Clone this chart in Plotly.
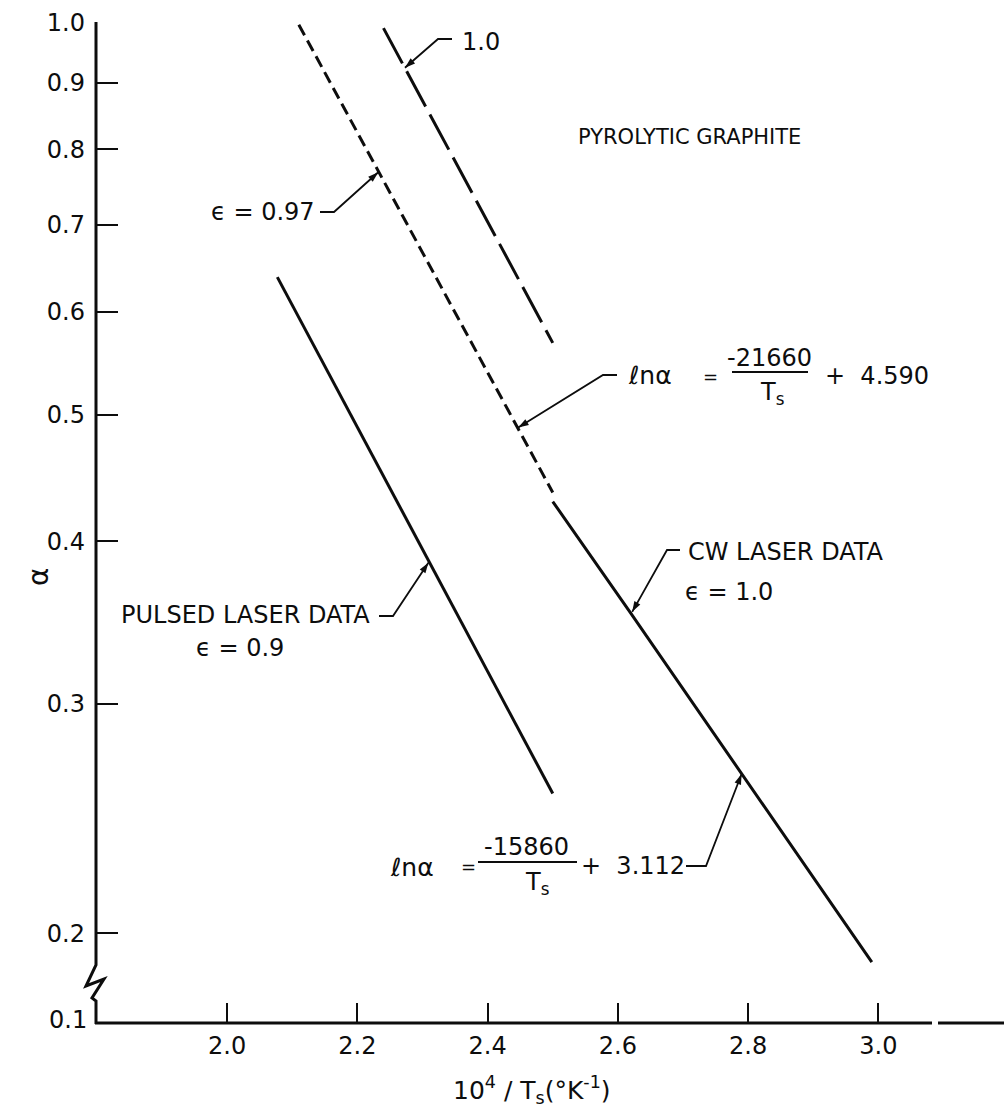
import math
import plotly.graph_objects as go

# ---------------- data ----------------
pulsed_x = [2.077, 2.5]
pulsed_y = [0.638, 0.256]

eps097_x = [2.11, 2.5]          # short-dashed, epsilon = 0.97
eps097_y = [0.997, 0.436]

eps10_x = [2.24, 2.5]           # long-dashed, epsilon = 1.0
eps10_y = [0.991, 0.568]

cw_x = [2.5, 2.62, 2.99]        # CW laser data
cw_y = [0.429, 0.352, 0.19]

x_tick_vals = [2.0, 2.2, 2.4, 2.6, 2.8, 3.0]
x_tick_text = ["2.0", "2.2", "2.4", "2.6", "2.8", "3.0"]
y_tick_vals = [0.2, 0.3, 0.4, 0.5, 0.6, 0.7, 0.8, 0.9, 1.0]
y_tick_text = ["0.2", "0.3", "0.4", "0.5", "0.6", "0.7", "0.8", "0.9", "1.0"]

X_RANGE = [1.797, 3.193]
Y_RANGE = [-0.768, 0.0]         # log10 units; bottom drawn as broken axis "0.1"

FONT = "DejaVu Sans"
BLACK = "#0d0d0d"

# ---------------- layout helpers ----------------
W, H = 1004, 1120
ML, MR, MT, MB = 95, 0, 23, 97
PW, PH = W - ML - MR, H - MT - MB


def pxx(x):
    return (x - ML) / PW


def pxy(y):
    return (H - MB - y) / PH


def dx(x):
    return (x - X_RANGE[0]) / (X_RANGE[1] - X_RANGE[0])


def dy(v):
    return (math.log10(v) - Y_RANGE[0]) / (Y_RANGE[1] - Y_RANGE[0])


fig = go.Figure()

fig.add_trace(go.Scatter(x=pulsed_x, y=pulsed_y, mode="lines",
                         line=dict(color=BLACK, width=3), showlegend=False))
fig.add_trace(go.Scatter(x=eps097_x, y=eps097_y, mode="lines",
                         line=dict(color=BLACK, width=3, dash="12px,6px"), showlegend=False))
fig.add_trace(go.Scatter(x=eps10_x, y=eps10_y, mode="lines",
                         line=dict(color=BLACK, width=3, dash="40px,9px"), showlegend=False))
fig.add_trace(go.Scatter(x=cw_x, y=cw_y, mode="lines",
                         line=dict(color=BLACK, width=3), showlegend=False))

shapes = []
# broken y axis with zigzag
shapes.append(dict(type="path", xref="paper", yref="paper",
                   path=(f"M {pxx(96)},{pxy(22)} L {pxx(96)},{pxy(965)} "
                         f"L {pxx(86)},{pxy(986)} L {pxx(104)},{pxy(979)} "
                         f"L {pxx(92)},{pxy(998)} L {pxx(96)},{pxy(1001)} L {pxx(96)},{pxy(1024)}"),
                   line=dict(color=BLACK, width=3)))
# x axis line (small gap near the right)
shapes.append(dict(type="line", xref="paper", yref="paper",
                   x0=pxx(95), x1=pxx(932), y0=pxy(1023), y1=pxy(1023),
                   line=dict(color=BLACK, width=3)))
shapes.append(dict(type="line", xref="paper", yref="paper",
                   x0=pxx(938), x1=pxx(1004), y0=pxy(1023), y1=pxy(1023),
                   line=dict(color=BLACK, width=3)))

annotations = []
head_x, head_y, head_angle = [], [], []


def text(t, x, y, size=24, xanchor="center"):
    annotations.append(dict(text=t, x=pxx(x), y=pxy(y), xref="paper", yref="paper",
                            showarrow=False, xanchor=xanchor, yanchor="middle",
                            font=dict(family=FONT, size=size, color=BLACK)))


def leader(stub_x0, stub_x1, sy, tx, ty):
    # horizontal stub from the label, then a line to the curve point with an arrowhead
    tpx = ML + dx(tx) * PW
    tpy = H - MB - dy(ty) * PH
    shapes.append(dict(type="path", xref="paper", yref="paper",
                       path=(f"M {pxx(stub_x0)},{pxy(sy)} L {pxx(stub_x1)},{pxy(sy)} "
                             f"L {pxx(tpx)},{pxy(tpy)}"),
                       line=dict(color=BLACK, width=1.8)))
    head_x.append(tx)
    head_y.append(ty)
    head_angle.append(math.degrees(math.atan2(tpx - stub_x1, -(tpy - sy))))


def frac_bar(x0, x1, y):
    shapes.append(dict(type="line", xref="paper", yref="paper",
                       x0=pxx(x0), x1=pxx(x1), y0=pxy(y), y1=pxy(y),
                       line=dict(color=BLACK, width=2)))


# y axis title and x axis title
annotations.append(dict(text="α", x=pxx(38), y=pxy(577), xref="paper", yref="paper",
                        showarrow=False, textangle=-90, xanchor="center", yanchor="middle",
                        font=dict(family=FONT, size=28, color=BLACK)))
text("10<sup>4</sup> / T<sub>s</sub>(°K<sup>-1</sup>)", 532, 1090, size=25)

# bottom broken-axis label
text("0.1", 68, 1020, size=24)

# labels
text("PYROLYTIC GRAPHITE", 689, 137, size=21)

text("1.0", 481, 42, size=24)
leader(452, 438, 39, 2.273, 0.924)

text("ϵ = 0.97", 263, 212, size=24)
leader(320, 334, 212, 2.232, 0.768)

text("PULSED LASER DATA", 245, 615, size=24)
text("ϵ = 0.9", 240, 648, size=24)
leader(379, 393, 616, 2.309, 0.385)

text("CW LASER DATA", 786, 552, size=24)
text("ϵ = 1.0", 729, 592, size=24)
leader(680, 667, 550, 2.622, 0.353)

# equation for dashed line
text("<i>ℓ</i>nα", 650, 375, size=25)
text("=", 710, 376, size=18)
text("-21660", 769, 358, size=24)
frac_bar(732, 808, 372)
text("T<sub>s</sub>", 772, 393, size=24)
text("+  4.590", 823, 376, size=24, xanchor="left")
leader(617, 603, 375, 2.447, 0.489)

# equation for CW line
text("<i>ℓ</i>nα", 412, 867, size=25)
text("=", 468, 866, size=18)
text("-15860", 526, 847, size=24)
frac_bar(478, 577, 862)
text("T<sub>s</sub>", 537, 883, size=24)
text("+  3.112", 579, 866, size=24, xanchor="left")
leader(686, 706, 866, 2.79, 0.265)

# arrowheads at the leader ends
fig.add_trace(go.Scatter(x=head_x, y=head_y, mode="markers", hoverinfo="skip",
                         marker=dict(symbol="arrow", size=11, angle=head_angle,
                                     color=BLACK, line=dict(width=0)),
                         showlegend=False))

fig.update_layout(
    width=W, height=H,
    margin=dict(l=ML, r=MR, t=MT, b=MB, pad=0),
    paper_bgcolor="white", plot_bgcolor="white",
    showlegend=False,
    font=dict(family=FONT, size=24, color=BLACK),
    shapes=shapes, annotations=annotations,
    xaxis=dict(range=X_RANGE, showgrid=False, zeroline=False, showline=False,
               ticks="inside", ticklen=20, tickwidth=2, tickcolor=BLACK,
               tickvals=x_tick_vals, ticktext=x_tick_text, automargin=False,
               ticklabelstandoff=6,
               tickfont=dict(family=FONT, size=24, color=BLACK)),
    yaxis=dict(type="log", range=Y_RANGE, showgrid=False, zeroline=False, showline=False,
               ticks="inside", ticklen=23, tickwidth=2, tickcolor=BLACK,
               tickvals=y_tick_vals, ticktext=y_tick_text, automargin=False,
               ticklabelstandoff=9,
               tickfont=dict(family=FONT, size=24, color=BLACK)),
)

fig.write_html("out.html")
